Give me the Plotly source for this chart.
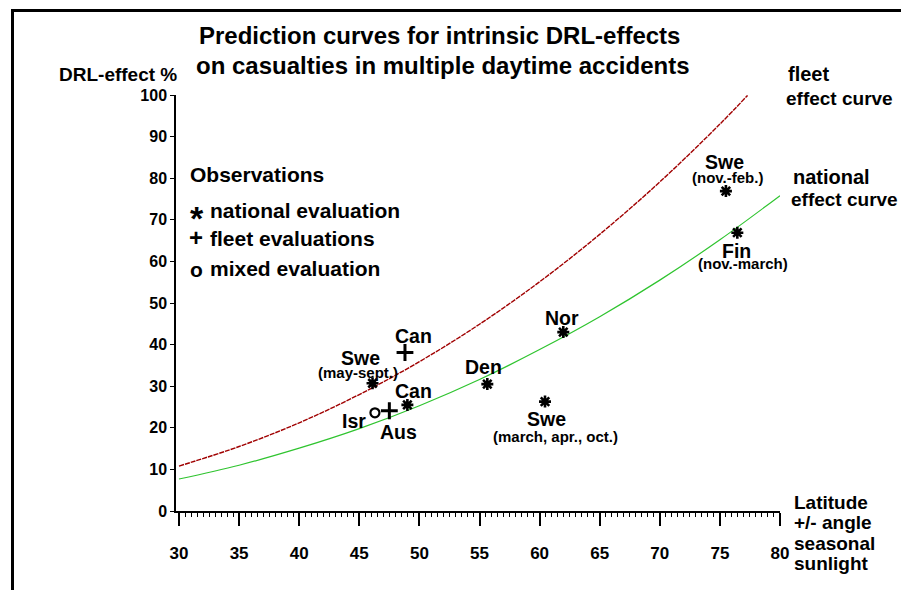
import plotly.graph_objects as go

# ---------------- data ----------------
curve_lat = [30, 35, 40, 45, 50, 55, 60, 65, 70, 75, 80]
national_curve = [7.7, 11.0, 15.1, 19.8, 25.3, 31.6, 38.8, 46.7, 55.5, 65.2, 75.8]
fleet_curve_lat = [30, 35, 40, 45, 50, 55, 60, 65, 70, 75, 77.3]
fleet_curve = [10.8, 15.5, 21.2, 28.0, 35.9, 44.9, 55.1, 66.5, 79.1, 93.0, 99.9]

national_obs_lat = [46.1, 49.0, 55.65, 61.97, 60.45, 75.5, 76.45]
national_obs_eff = [30.7, 25.5, 30.5, 43.0, 26.3, 76.9, 66.9]
fleet_obs_lat = [48.8, 47.5]
fleet_obs_eff = [38.1, 24.1]
mixed_obs_lat = [46.3]
mixed_obs_eff = [23.6]

x_ticks = [30, 35, 40, 45, 50, 55, 60, 65, 70, 75, 80]
y_ticks = [0, 10, 20, 30, 40, 50, 60, 70, 80, 90, 100]

# point labels: (text, latitude, effect, size)
point_labels = [
    ("Swe", 45.06, 36.8, 19.5), ("(may-sept.)", 44.89, 33.4, 15),
    ("Can", 49.47, 42.1, 19.5), ("Can", 49.55, 28.8, 19.5),
    ("Den", 55.37, 34.6, 19.5), ("Nor", 61.84, 46.4, 19.5),
    ("Isr", 44.56, 21.7, 19.5), ("Aus", 48.30, 19.1, 19.5),
    ("Swe", 60.59, 22.0, 19.5), ("(march, apr., oct.)", 61.36, 17.9, 15),
    ("Swe", 75.42, 84.0, 19.5), ("(nov.-feb.)", 75.65, 80.2, 15),
    ("Fin", 76.34, 62.6, 19.5), ("(nov.-march)", 76.90, 59.4, 15),
]

FONT = "Liberation Sans, Arial, Helvetica, sans-serif"

# page offset of the figure inside the html body (default body margin)
OFF = 8
# plot-area pixel geometry in window coordinates
L, R, T, B = 176, 780, 95, 511
WW, WH = 909, 590


def px(xp):
    return (xp - L) / (R - L)


def py(yp):
    return (B - yp) / (B - T)


fig = go.Figure()

fig.add_trace(go.Scatter(x=fleet_curve_lat, y=fleet_curve, mode="lines",
                         line=dict(color="#a00000", width=1.4, dash="5px,1px", shape="spline"),
                         hoverinfo="skip", showlegend=False))
fig.add_trace(go.Scatter(x=curve_lat, y=national_curve, mode="lines",
                         line=dict(color="#2fc42f", width=1.2, shape="spline"),
                         hoverinfo="skip", showlegend=False))

fig.add_trace(go.Scatter(x=national_obs_lat, y=national_obs_eff, mode="markers",
                         marker=dict(symbol="asterisk-open", size=10, color="black",
                                     line=dict(color="black", width=2.6)),
                         showlegend=False, cliponaxis=False))
fig.add_trace(go.Scatter(x=fleet_obs_lat, y=fleet_obs_eff, mode="markers",
                         marker=dict(symbol="cross-thin-open", size=12, color="black",
                                     line=dict(color="black", width=3)),
                         showlegend=False, cliponaxis=False))
fig.add_trace(go.Scatter(x=mixed_obs_lat, y=mixed_obs_eff, mode="markers",
                         marker=dict(symbol="circle-open", size=9, color="black",
                                     line=dict(color="black", width=2.2)),
                         showlegend=False, cliponaxis=False))

ann = []


def text(t, xp, yp, size, xanchor="center", yshift=0):
    ann.append(dict(text="<b>" + t + "</b>", x=px(xp), y=py(yp), xref="paper", yref="paper",
                    showarrow=False, xanchor=xanchor, yanchor="middle", yshift=yshift,
                    font=dict(family=FONT, size=size, color="black")))


# title
text("Prediction curves for intrinsic DRL-effects", 439, 35, 24)
text("on casualties in multiple daytime accidents", 443, 66, 24)
# y-axis title
text("DRL-effect %", 118, 75, 19)
# x-axis title
for i, t in enumerate(["Latitude", "+/- angle", "seasonal", "sunlight"]):
    text(t, 792, [502.7, 522.7, 543.3, 563.3][i], 19, xanchor="left")
# curve names
text("fleet", 786, 74, 20, xanchor="left")
text("effect curve", 784, 99, 19, xanchor="left")
text("national", 791, 177, 20, xanchor="left")
text("effect curve", 789, 199, 19, xanchor="left")
# observation key
text("Observations", 188, 174, 21, xanchor="left")
text("*", 188, 218, 34, xanchor="left")
text("national evaluation", 208, 210, 21, xanchor="left")
text("+", 187, 237, 24, xanchor="left")
text("fleet evaluations", 208, 238, 21, xanchor="left")
text("o", 188, 269, 21, xanchor="left")
text("mixed evaluation", 208, 268, 21, xanchor="left")

for t, lx, ly, s in point_labels:
    ann.append(dict(text="<b>" + t + "</b>", x=lx, y=ly, xref="x", yref="y",
                    showarrow=False, xanchor="center", yanchor="middle",
                    font=dict(family=FONT, size=s, color="black")))

shapes = [
    dict(type="line", xref="paper", yref="paper", x0=px(12.5), x1=px(12.5),
         y0=py(600), y1=py(9.5), line=dict(color="black", width=3)),
    dict(type="line", xref="paper", yref="paper", x0=px(11), x1=px(920),
         y0=py(10.5), y1=py(10.5), line=dict(color="black", width=3)),
]

fig.update_layout(
    width=WW - OFF, height=WH - OFF,
    margin=dict(l=L - OFF, r=WW - R, t=T - OFF, b=WH - B, pad=0),
    paper_bgcolor="white", plot_bgcolor="white",
    annotations=ann, shapes=shapes, showlegend=False,
)

fig.update_xaxes(range=[29.75, 80], tickmode="array", tickvals=x_ticks,
                 ticktext=[str(v) for v in x_ticks],
                 ticks="outside", ticklen=13, tickwidth=1.5, tickcolor="black",
                 showline=True, linecolor="black", linewidth=1.5,
                 showgrid=False, zeroline=False, ticklabelstandoff=13,
                 tickfont=dict(family=FONT, size=17, color="black", weight="bold"),
                 minor=dict(tick0=30, dtick=0.5, ticks="outside", ticklen=4,
                            tickwidth=1, tickcolor="black", showgrid=False))
fig.update_yaxes(range=[0, 100], tickmode="array", tickvals=y_ticks,
                 ticktext=[str(v) for v in y_ticks],
                 ticks="outside", ticklen=4, tickwidth=1.2, tickcolor="black",
                 showline=True, linecolor="black", linewidth=1.5,
                 showgrid=False, zeroline=False, ticklabelstandoff=0,
                 tickfont=dict(family=FONT, size=16, color="black", weight="bold"))

fig.write_html("out.html")
